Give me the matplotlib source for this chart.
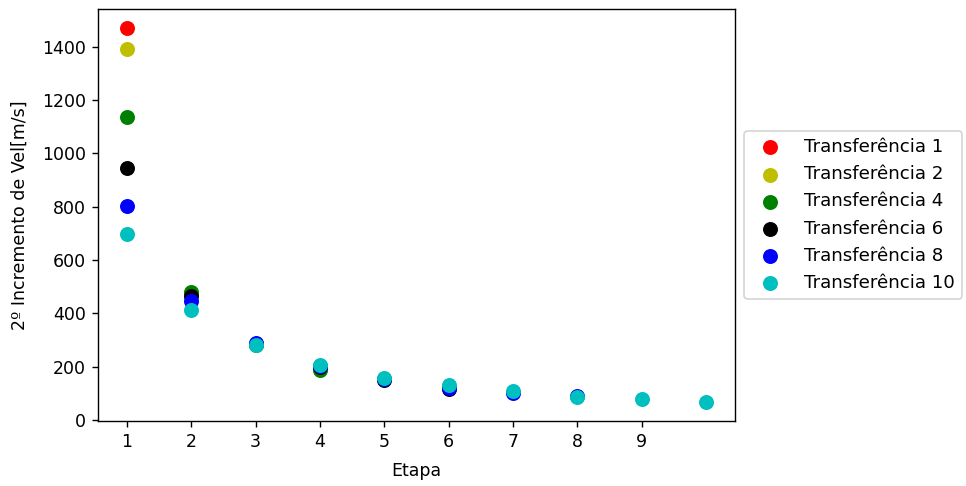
import numpy as np
import matplotlib
matplotlib.use('Agg')
import matplotlib.pyplot as plt

# second velocity increment per stage, for each number of transfers
etapas = list(range(1, 11))
transf_1 = [1471]
transf_2 = [1392, 475]
transf_4 = [1135, 479, 282, 188]
transf_6 = [944, 464, 283, 198, 149, 115]
transf_8 = [802, 445, 287, 203, 152, 118, 100, 88]
transf_10 = [698, 414, 280, 206, 157, 131, 107, 87, 80, 66]

series = [
    ('Transferência 1', transf_1, 'r'),
    ('Transferência 2', transf_2, 'y'),
    ('Transferência 4', transf_4, 'g'),
    ('Transferência 6', transf_6, 'k'),
    ('Transferência 8', transf_8, 'b'),
    ('Transferência 10', transf_10, 'c'),
]

fig = plt.figure(figsize=(966 / 125, 486 / 125), dpi=125)
ax = fig.add_axes([0.1014, 0.1337, 0.6595, 0.8478])

for label, valores, cor in series:
    ax.scatter(etapas[:len(valores)], valores, c=cor, s=58, label=label)

ax.set_xticks(range(1, 10))
ax.set_xlabel('Etapa', labelpad=6)
ax.set_ylabel('2º Incremento de Vel[m/s]', labelpad=7.5)
ax.legend(loc='center left', bbox_to_anchor=(1, 0.5), fontsize=10.5,
          handletextpad=0.9)

fig.savefig('out.png', dpi=125)
